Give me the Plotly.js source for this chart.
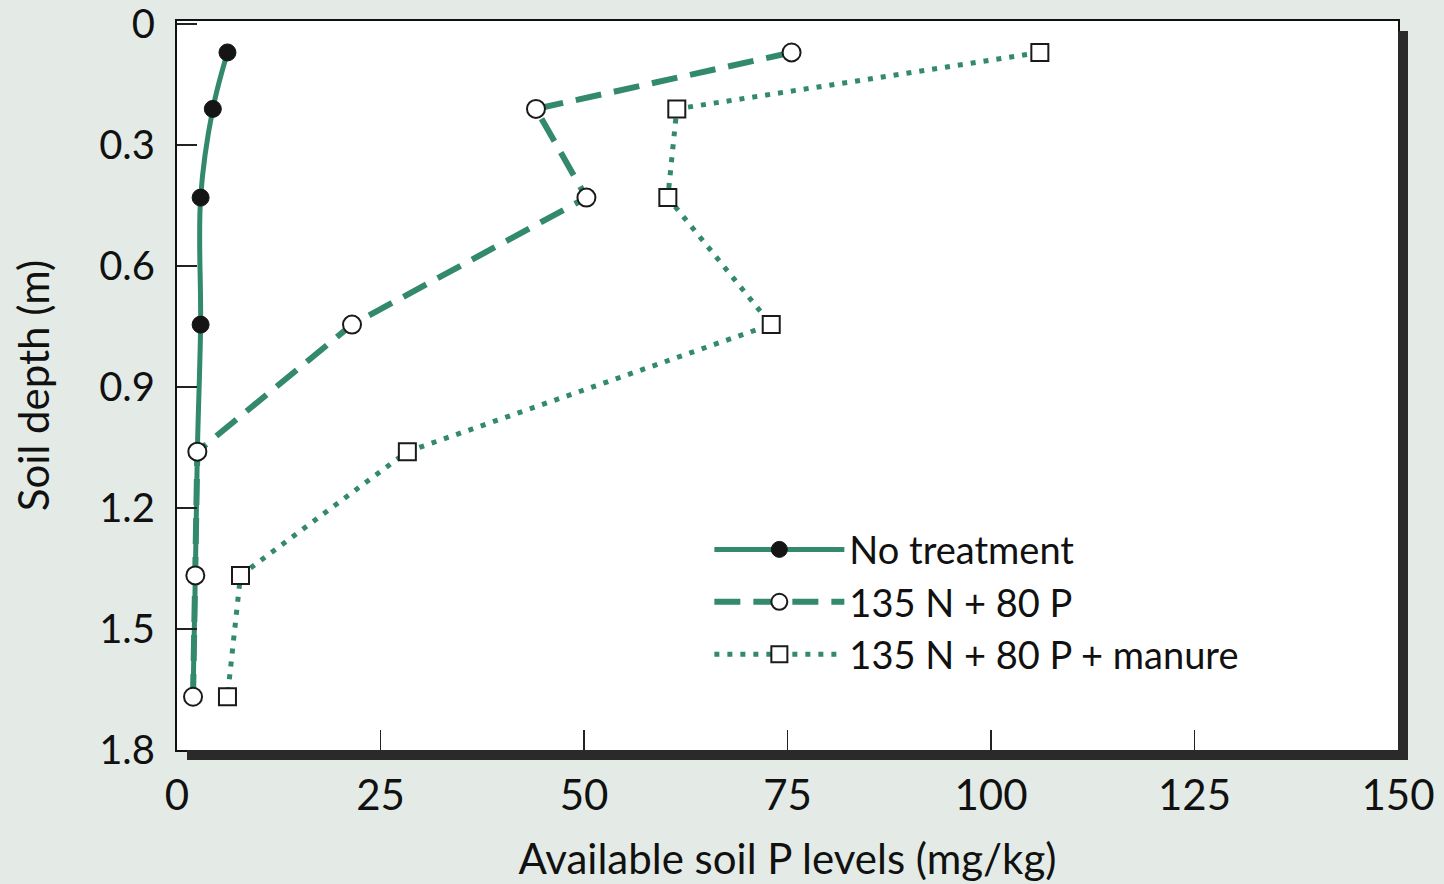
<!DOCTYPE html>
<html>
<head>
<meta charset="utf-8">
<script src="https://cdn.plot.ly/plotly-3.0.1.min.js"></script>
<style>html,body{margin:0;padding:0;background:#e4ebe6;}#chart{width:1444px;height:884px;}</style>
</head>
<body>
<div id="chart"></div>
<script>
// Soil depth (m) of the sampled layers
const depths = [0.07, 0.21, 0.43, 0.745, 1.06, 1.367, 1.668];
// Available soil P (mg/kg)
const noTreatment = [6.2, 4.4, 2.9, 2.9, 2.5, 2.25, 1.97];
const np135_80 = [75.5, 44.1, 50.3, 21.5, 2.5, 2.25, 1.97];
const npManure = [106.0, 61.4, 60.3, 73.0, 28.3, 7.8, 6.2];
const seriesNames = ["No treatment", "135 N + 80 P", "135 N + 80 P + manure"];
const xTicks = [0, 25, 50, 75, 100, 125, 150];
const yTicks = [0, 0.3, 0.6, 0.9, 1.2, 1.5, 1.8];

const green = "#33896b";
const font = "Lato, 'Open Sans', sans-serif";

const traces = [
  {
    x: noTreatment, y: depths, name: seriesNames[0], type: "scatter", mode: "lines+markers",
    line: {color: green, width: 5, shape: "spline", smoothing: 1},
    marker: {symbol: "circle", size: 17, color: "#151515", line: {color: "#151515", width: 1}}
  },
  {
    x: np135_80, y: depths, name: seriesNames[1], type: "scatter", mode: "lines+markers",
    line: {color: green, width: 6, dash: "26px,13px"},
    marker: {symbol: "circle", size: 18, color: "#ffffff", line: {color: "#1a1a1a", width: 2}}
  },
  {
    x: npManure, y: depths, name: seriesNames[2], type: "scatter", mode: "lines+markers",
    line: {color: green, width: 5, dash: "5px,8px"},
    marker: {symbol: "square", size: 17, color: "#ffffff", line: {color: "#1a1a1a", width: 2}}
  }
];

const W = 1444, H = 884, L = 177, R = 46, T = 21, B = 134;
const pw = W - L - R, ph = H - T - B;
const off = 10;

const layout = {
  width: W, height: H,
  margin: {l: L, r: R, t: T, b: B, pad: 0},
  paper_bgcolor: "#e4ebe6",
  plot_bgcolor: "#ffffff",
  font: {family: font, color: "#111", size: 40},
  showlegend: true,
  legend: {
    x: 0.436, y: 0.318, xanchor: "left", yanchor: "top",
    bgcolor: "rgba(0,0,0,0)", borderwidth: 0,
    font: {family: font, size: 38, color: "#111"},
    itemwidth: 130, tracegroupgap: 0
  },
  xaxis: {
    range: [0, 150], tickvals: xTicks, ticktext: xTicks.map(String),
    ticks: "inside", ticklen: 20, tickwidth: 1.5, tickcolor: "#222",
    showline: true, linecolor: "#111", linewidth: 2, mirror: true,
    showgrid: false, zeroline: false,
    tickfont: {family: font, size: 42, color: "#111"},
    ticklabelstandoff: 8, ticklabeloverflow: "allow",
    title: {text: "Available soil P levels (mg/kg)", font: {family: font, size: 42, color: "#111"}, standoff: 26}
  },
  yaxis: {
    range: [1.8, -0.008], tickvals: yTicks, ticktext: yTicks.map(v => v === 0 ? "0" : v.toFixed(1)),
    ticks: "inside", ticklen: 20, tickwidth: 1.5, tickcolor: "#222",
    showline: true, linecolor: "#111", linewidth: 2, mirror: true,
    showgrid: false, zeroline: false,
    tickfont: {family: font, size: 40, color: "#111"},
    ticklabelstandoff: 12, ticklabeloverflow: "allow",
    title: {text: "Soil depth (m)", font: {family: font, size: 42, color: "#111"}, standoff: 36}
  },
  shapes: [
    {type: "rect", xref: "paper", yref: "paper", layer: "above",
     x0: off / pw, x1: 1 + off / pw, y0: -off / ph, y1: 0, fillcolor: "#2a2a2a", line: {width: 0}},
    {type: "rect", xref: "paper", yref: "paper", layer: "above",
     x0: 1, x1: 1 + off / pw, y0: -off / ph, y1: 1 - off / ph, fillcolor: "#2a2a2a", line: {width: 0}}
  ]
};

Plotly.newPlot("chart", traces, layout, {displayModeBar: false, staticPlot: true});
</script>
</body>
</html>
